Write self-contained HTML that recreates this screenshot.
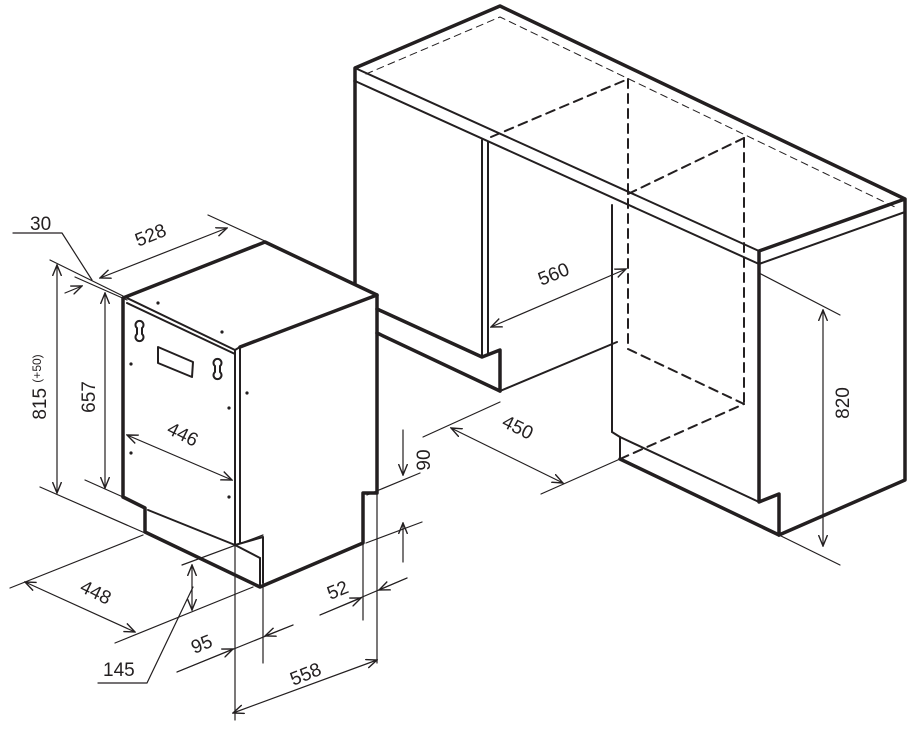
<!DOCTYPE html>
<html><head><meta charset="utf-8"><style>
html,body{margin:0;padding:0;background:#fff;}
svg{display:block;}
text{font-family:"Liberation Sans",sans-serif;font-size:19px;fill:#231f20;}
</style></head><body>
<svg width="916" height="749" viewBox="0 0 916 749" xmlns="http://www.w3.org/2000/svg">
<defs>
<marker id="a" viewBox="0 0 12 10" refX="11" refY="5" markerWidth="12" markerHeight="10" markerUnits="userSpaceOnUse" orient="auto-start-reverse">
<path d="M0,0.5 L11,5 L0,9.5" fill="none" stroke="#231f20" stroke-width="1.4"/>
</marker>
</defs>
<g fill="none" stroke="#231f20" stroke-linecap="round" stroke-linejoin="round">
<g stroke-width="3.5">
<polyline points="355,81 355,68 500,6 905,199 905,480 779,535 779,494 759,502 759,251 905,199"/>
<line x1="355" y1="81" x2="355" y2="284"/>
<polyline points="377,309 482,357 500,350 500,391"/>
<line x1="377" y1="333" x2="500" y2="391"/>
<line x1="620" y1="459" x2="779" y2="535"/>
</g>
<g stroke-width="2">
<line x1="355" y1="68" x2="759" y2="251"/>
<line x1="355" y1="81" x2="759" y2="264"/>
<line x1="759" y1="264" x2="905" y2="212"/>
<line x1="482" y1="140" x2="482" y2="357"/>
<line x1="488" y1="142" x2="488" y2="355"/>
<line x1="612" y1="205" x2="612" y2="432"/>
<line x1="612" y1="432" x2="620" y2="437"/>
<line x1="620" y1="437" x2="620" y2="459"/>
<line x1="620" y1="437" x2="759" y2="502"/>
<line x1="500" y1="391" x2="617" y2="342"/>
</g>
<g stroke-width="2" stroke-dasharray="9,6">
<line x1="491" y1="137" x2="628" y2="79"/>
<line x1="628" y1="79" x2="628" y2="349"/>
<line x1="628" y1="349" x2="744" y2="404"/>
<line x1="744" y1="138" x2="744" y2="404"/>
<line x1="628" y1="194" x2="744" y2="138"/>
<line x1="620" y1="459" x2="744" y2="404"/>
</g>
<polyline stroke-width="1" stroke-dasharray="7,5" points="366,74 500,17 897,208"/>
<g stroke-width="3.5">
<polyline points="123,497 123,298 265,242 377,295 377,493 363,493 363,543 260,587 145,532 145,508 123,497"/>
<line x1="240" y1="347" x2="377" y2="295"/>
</g>
<g stroke-width="2">
<line x1="125" y1="297" x2="235" y2="350"/>
<line x1="127" y1="303" x2="235" y2="354"/>
<line x1="235" y1="350" x2="240" y2="347"/>
<line x1="235" y1="350" x2="235" y2="545"/>
<line x1="240" y1="347" x2="240" y2="543"/>
<line x1="148" y1="510" x2="235" y2="545"/>
<polyline points="235,545 263,537 263,583"/>
<line x1="235" y1="545" x2="260" y2="558"/>
<line x1="260" y1="558" x2="260" y2="587"/>
<polygon points="158,347 193,362 192,377 158,363"/>
<path d="M137,328 a4,4 0 1 1 5,0 v6 a4,4 0 1 1 -5,0 z"/>
<path d="M215,366 a4,4 0 1 1 5,0 v6 a4,4 0 1 1 -5,0 z"/>
</g>
<g fill="#231f20" stroke="none">
<circle cx="158" cy="303" r="1.6"/><circle cx="222" cy="332" r="1.6"/>
<circle cx="131" cy="364" r="1.6"/><circle cx="131" cy="453" r="1.6"/>
<circle cx="229" cy="408" r="1.6"/><circle cx="229" cy="497" r="1.6"/>
<circle cx="247" cy="393" r="1.6"/>
</g>
<g stroke-width="1.2">
<polyline points="13,233 62,233 92,280"/>
<line x1="50" y1="260" x2="123" y2="296"/>
<line x1="75" y1="277" x2="127" y2="300"/>
<line x1="208" y1="215" x2="267" y2="242"/>
<line x1="100" y1="278" x2="227" y2="228" marker-start="url(#a)" marker-end="url(#a)"/>
<line x1="65" y1="293" x2="82" y2="286" marker-end="url(#a)"/>
<line x1="57" y1="265" x2="57" y2="493" marker-start="url(#a)" marker-end="url(#a)"/>
<line x1="105" y1="293" x2="105" y2="488" marker-start="url(#a)" marker-end="url(#a)"/>
<line x1="40" y1="487" x2="145" y2="533"/>
<line x1="85" y1="480" x2="123" y2="497"/>
<line x1="127" y1="435" x2="232" y2="480" marker-start="url(#a)" marker-end="url(#a)"/>
<line x1="10" y1="588" x2="143" y2="535"/>
<line x1="115" y1="643" x2="253" y2="587"/>
<line x1="25" y1="582" x2="135" y2="632" marker-start="url(#a)" marker-end="url(#a)"/>
<line x1="182" y1="565" x2="263" y2="535"/>
<line x1="192" y1="565" x2="192" y2="610" marker-start="url(#a)" marker-end="url(#a)"/>
<polyline points="98,683 147,683 193,587"/>
<line x1="263" y1="583" x2="263" y2="663"/>
<line x1="235" y1="545" x2="235" y2="720"/>
<line x1="177" y1="672" x2="293" y2="625"/>
<line x1="177" y1="672" x2="233" y2="649" marker-end="url(#a)"/>
<line x1="293" y1="625" x2="265" y2="636" marker-end="url(#a)"/>
<line x1="233" y1="713" x2="377" y2="660" marker-start="url(#a)" marker-end="url(#a)"/>
<line x1="377" y1="493" x2="377" y2="663"/>
<line x1="363" y1="543" x2="363" y2="620"/>
<line x1="320" y1="615" x2="407" y2="578"/>
<line x1="320" y1="615" x2="361" y2="598" marker-end="url(#a)"/>
<line x1="407" y1="578" x2="379" y2="590" marker-end="url(#a)"/>
<line x1="367" y1="495" x2="420" y2="473"/>
<line x1="366" y1="543" x2="422" y2="522"/>
<line x1="403" y1="430" x2="403" y2="475" marker-end="url(#a)"/>
<line x1="403" y1="562" x2="403" y2="523" marker-end="url(#a)"/>
<line x1="491" y1="327" x2="626" y2="269" marker-start="url(#a)" marker-end="url(#a)"/>
<line x1="423" y1="437" x2="500" y2="402"/>
<line x1="541" y1="494" x2="620" y2="459"/>
<line x1="451" y1="428" x2="563" y2="483" marker-start="url(#a)" marker-end="url(#a)"/>
<line x1="759" y1="273" x2="840" y2="315"/>
<line x1="779" y1="535" x2="840" y2="565"/>
<line x1="823" y1="310" x2="823" y2="546" marker-start="url(#a)" marker-end="url(#a)"/>
</g>
</g>
<text x="30" y="230">30</text>
<text transform="translate(153,241) rotate(-22)" text-anchor="middle">528</text>
<text transform="translate(46,387) rotate(-90)" text-anchor="middle">815 <tspan font-size="12" dy="-5">(+50)</tspan></text>
<text transform="translate(95,397) rotate(-90)" text-anchor="middle">657</text>
<text transform="translate(180,440) rotate(26)" text-anchor="middle">446</text>
<text transform="translate(93,598) rotate(26)" text-anchor="middle">448</text>
<text x="103" y="676">145</text>
<text transform="translate(204,650) rotate(-22)" text-anchor="middle">95</text>
<text transform="translate(308,680) rotate(-22)" text-anchor="middle">558</text>
<text transform="translate(340,596) rotate(-22)" text-anchor="middle">52</text>
<text transform="translate(430,460) rotate(-90)" text-anchor="middle">90</text>
<text transform="translate(556,280) rotate(-22)" text-anchor="middle">560</text>
<text transform="translate(515,433) rotate(26)" text-anchor="middle">450</text>
<text transform="translate(849,403) rotate(-90)" text-anchor="middle">820</text>
</svg>
</body></html>
